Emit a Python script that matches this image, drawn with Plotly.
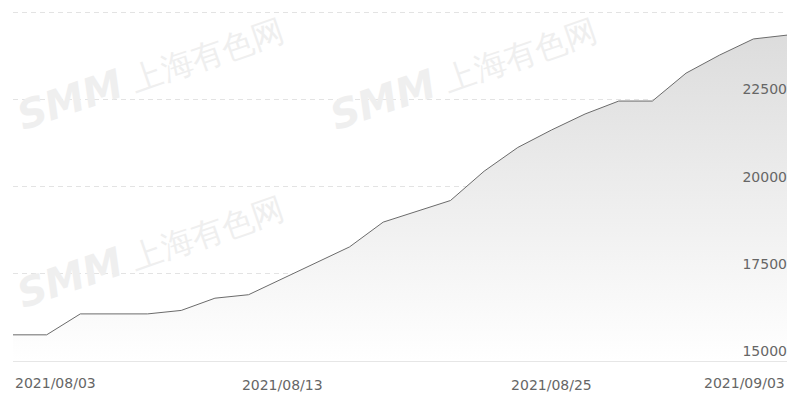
import plotly.graph_objects as go

# trading days 2021/08/03 - 2021/09/03
dates = ['2021/08/03', '2021/08/04', '2021/08/05', '2021/08/06',
         '2021/08/09', '2021/08/10', '2021/08/11', '2021/08/12', '2021/08/13',
         '2021/08/16', '2021/08/17', '2021/08/18', '2021/08/19', '2021/08/20',
         '2021/08/23', '2021/08/24', '2021/08/25', '2021/08/26', '2021/08/27',
         '2021/08/30', '2021/08/31', '2021/09/01', '2021/09/02', '2021/09/03']
prices = [15750, 15750, 16350, 16350, 16350, 16450, 16800, 16900, 17350,
          17800, 18270, 18980, 19300, 19600, 20440, 21120, 21620, 22080,
          22450, 22450, 23250, 23770, 24230, 24340]

y_ticks = [15000, 17500, 20000, 22500, 25000]
y_labels = ['15000', '17500', '20000', '22500', '']
x_label_dates = ['2021/08/13', '2021/08/25']
edge_dates = ['2021/08/03', '2021/09/03']

font = 'DejaVu Sans'
tick_color = '#666666'

# the page body adds an 8px offset, so the figure is 8px smaller
W, H = 792, 405
ml, mr, mt, mb = 5, 13, 2, 52
pw, ph = W - ml - mr, H - mt - mb

fig = go.Figure()
fig.add_trace(go.Scatter(
    x=dates,
    y=prices,
    mode='lines',
    line=dict(color='#6b6b6b', width=1),
    fill='tozeroy',
    fillgradient=dict(type='vertical',
                      colorscale=[[0, '#ffffff'], [1, '#dcdcdc']],
                      start=15000, stop=24400),
    hoverinfo='x+y',
    showlegend=False
))

# watermarks (centres in window pixels)
for wx, wy in [(150, 72), (463, 72), (150, 250)]:
    fig.add_annotation(
        x=(wx - 8 - ml) / pw, y=(H + 8 - mb - wy) / ph,
        xref='paper', yref='paper', xanchor='center', yanchor='middle',
        text='<b><i><span style="font-size:40px">SMM</span></i></b> 上海有色网',
        showarrow=False,
        textangle=-19, font=dict(family=font, size=32, color='#efefef')
    )

# first / last date labels are aligned to the plot edges
for d, anchor in zip(edge_dates, ['left', 'right']):
    fig.add_annotation(
        x=d, y=0, xref='x', yref='paper', yanchor='top', xanchor=anchor,
        text=d, showarrow=False, yshift=-12,
        font=dict(family=font, size=14, color=tick_color)
    )

fig.update_xaxes(
    type='category',
    range=[0, len(dates) - 1],
    tickvals=x_label_dates,
    ticktext=x_label_dates,
    showgrid=False,
    showline=True,
    linecolor='#e6e6e6',
    linewidth=1,
    ticks='',
    ticklabelstandoff=11,
    tickfont=dict(family=font, size=14, color=tick_color),
    fixedrange=True
)
fig.update_yaxes(
    side='right',
    range=[15000, 25060],
    tickvals=y_ticks,
    ticktext=y_labels,
    ticklabelposition='inside top',
    ticklabelstandoff=-3,
    showgrid=True,
    gridcolor='#e3e3e3',
    griddash='5px,4px',
    zeroline=False,
    showline=False,
    ticks='',
    tickfont=dict(family=font, size=14, color=tick_color),
    fixedrange=True
)
fig.update_layout(
    width=W, height=H,
    margin=dict(l=ml, r=mr, t=mt, b=mb),
    paper_bgcolor='white',
    plot_bgcolor='white',
    font=dict(family=font)
)

fig.write_html('out.html')
